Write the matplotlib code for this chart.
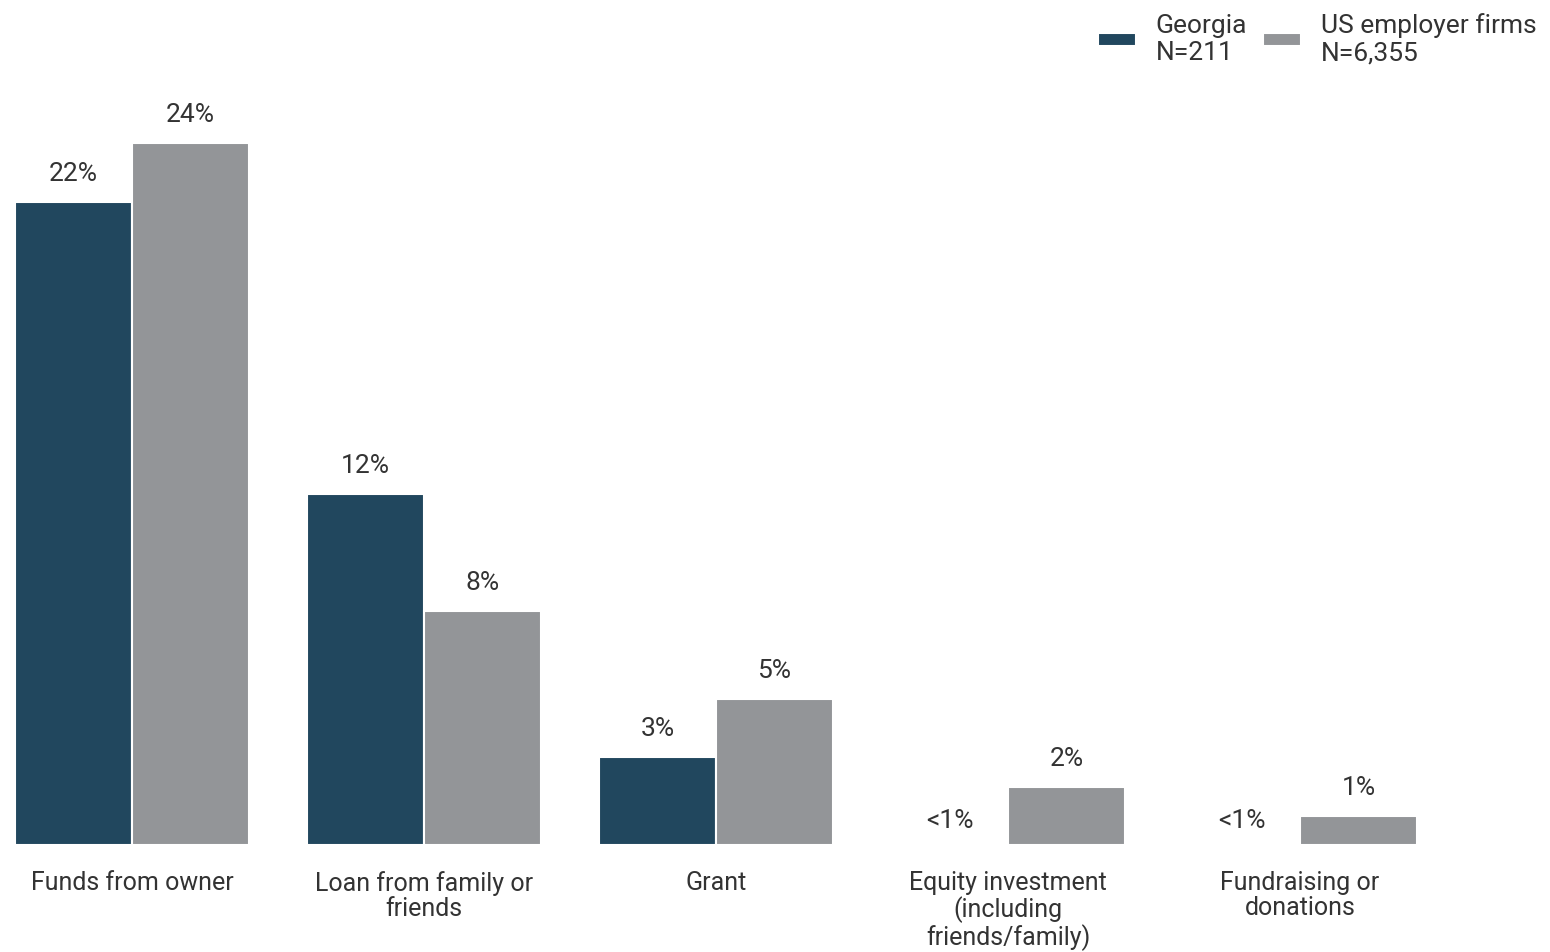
import matplotlib.pyplot as plt
import numpy as np

plt.rcParams['font.family'] = ['Roboto', 'DejaVu Sans']

categories = ['Funds from owner', 'Loan from family or\nfriends', 'Grant',
              'Equity investment\n(including\nfriends/family)', 'Fundraising or\ndonations']
georgia = [22, 12, 3, 0, 0]
us_firms = [24, 8, 5, 2, 1]
series_names = ['Georgia\nN=211', 'US employer firms\nN=6,355']

navy = '#21475e'
gray = '#939598'
text_col = '#333333'

fig = plt.figure(figsize=(15.5, 9.52), dpi=100)
ax = fig.add_axes([0, 107 / 952, 1, 845 / 952])

x = np.arange(len(categories))
w = 0.4
b1 = ax.bar(x - w / 2, georgia, w, color=navy, edgecolor='white', linewidth=1.5, label=series_names[0])
b2 = ax.bar(x + w / 2, us_firms, w, color=gray, edgecolor='white', linewidth=1.5, label=series_names[1])

for bars, vals in [(b1, georgia), (b2, us_firms)]:
    for bar, v in zip(bars, vals):
        cx = bar.get_x() + bar.get_width() / 2
        if v == 0:
            ax.annotate('<1%', (cx, 0), xytext=(0, 12.5), textcoords='offset points',
                        ha='center', va='baseline', fontsize=19, color=text_col)
        else:
            ax.annotate(f'{v}%', (cx, v), xytext=(0, 15), textcoords='offset points',
                        ha='center', va='baseline', fontsize=19, color=text_col)

ax.set_xlim((0 - 132) / 292, (1550 - 132) / 292)
ax.set_ylim(0, 845 / 29.25)
ax.set_xticks(x)
ax.set_xticklabels(categories, fontsize=18, color=text_col, linespacing=1.05)
ax.tick_params(axis='x', length=0, pad=19)
ax.set_yticks([])
for s in ax.spines.values():
    s.set_visible(False)

fig.legend(loc='upper right', bbox_to_anchor=(1.0, 1.0), ncol=2, frameon=False,
           fontsize=19, handlelength=1.45, handleheight=0.4, handletextpad=0.75,
           columnspacing=0.6, labelcolor=text_col, borderaxespad=0.1,
           labelspacing=0.2)

fig.savefig('out.png', dpi=100)
